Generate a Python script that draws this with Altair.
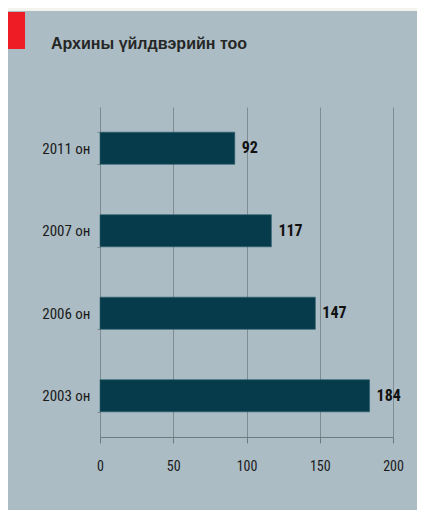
import altair as alt
import pandas as pd

years = ["2011 он", "2007 он", "2006  он", "2003 он"]
counts = [92, 117, 147, 184]
x_ticks = [0, 50, 100, 150, 200]
title_text = "Архины үйлдвэрийн тоо"

df = pd.DataFrame({"year": years, "count": counts})
one = pd.DataFrame({"a": [0]})

PANEL = "#abbcc4"
BAR = "#063b4b"
NARROW = "Roboto Condensed, Liberation Sans Narrow, DejaVu Sans Condensed, sans-serif"

W, H = 293, 330

y_enc = alt.Y("year:N", sort=years, title=None,
              scale=alt.Scale(paddingInner=0.61, paddingOuter=0.305),
              axis=alt.Axis(labelFont=NARROW, labelFontSize=15, labelColor="#1a1a1a",
                            tickSize=3, tickColor="#7d8a90", tickBand="extent",
                            domainColor="#7d8a90", labelPadding=7, grid=False))
x_enc = alt.X("count:Q", title=None,
              scale=alt.Scale(domain=[0, 200], nice=False),
              axis=alt.Axis(values=x_ticks, labelFont=NARROW, labelFontSize=14,
                            labelColor="#1a1a1a", tickSize=6, tickColor="#6e7a80",
                            domainColor="#6e7a80", labelPadding=16, labelFlush=False,
                            grid=True, gridColor="#7f8c92", gridWidth=1))

bars = alt.Chart(df).mark_bar(color=BAR, stroke="#2d5f6e", strokeWidth=0.6).encode(x=x_enc, y=y_enc)
labels = alt.Chart(df).mark_text(align="left", dx=7, font=NARROW, fontSize=16,
                                 fontWeight="bold", color="#111111").encode(
    x="count:Q", y=alt.Y("year:N", sort=years), text="count:Q")

strip = alt.Chart(one).mark_rect(color="#f3f3ee").encode(
    x=alt.value(-92), x2=alt.value(320), y=alt.value(-99), y2=alt.value(-96))
red = alt.Chart(one).mark_rect(color="#ee1c25").encode(
    x=alt.value(-92), x2=alt.value(-75), y=alt.value(-95), y2=alt.value(-58))
title = alt.Chart(one).mark_text(align="left", baseline="alphabetic", fontSize=16,
                                 fontWeight="bold", font="Liberation Sans, Arial, sans-serif",
                                 color="#262626").encode(
    x=alt.value(-49), y=alt.value(-58), text=alt.value(title_text))

chart = alt.layer(bars, labels, strip, red, title).properties(
    width=W, height=H,
    background=PANEL,
    padding={"left": 92, "top": 99, "right": 24, "bottom": 73},
    autosize=alt.AutoSizeParams(type="none"),
).configure_view(stroke=None)

chart.save("out.html", embed_options={"renderer": "svg", "actions": False})
